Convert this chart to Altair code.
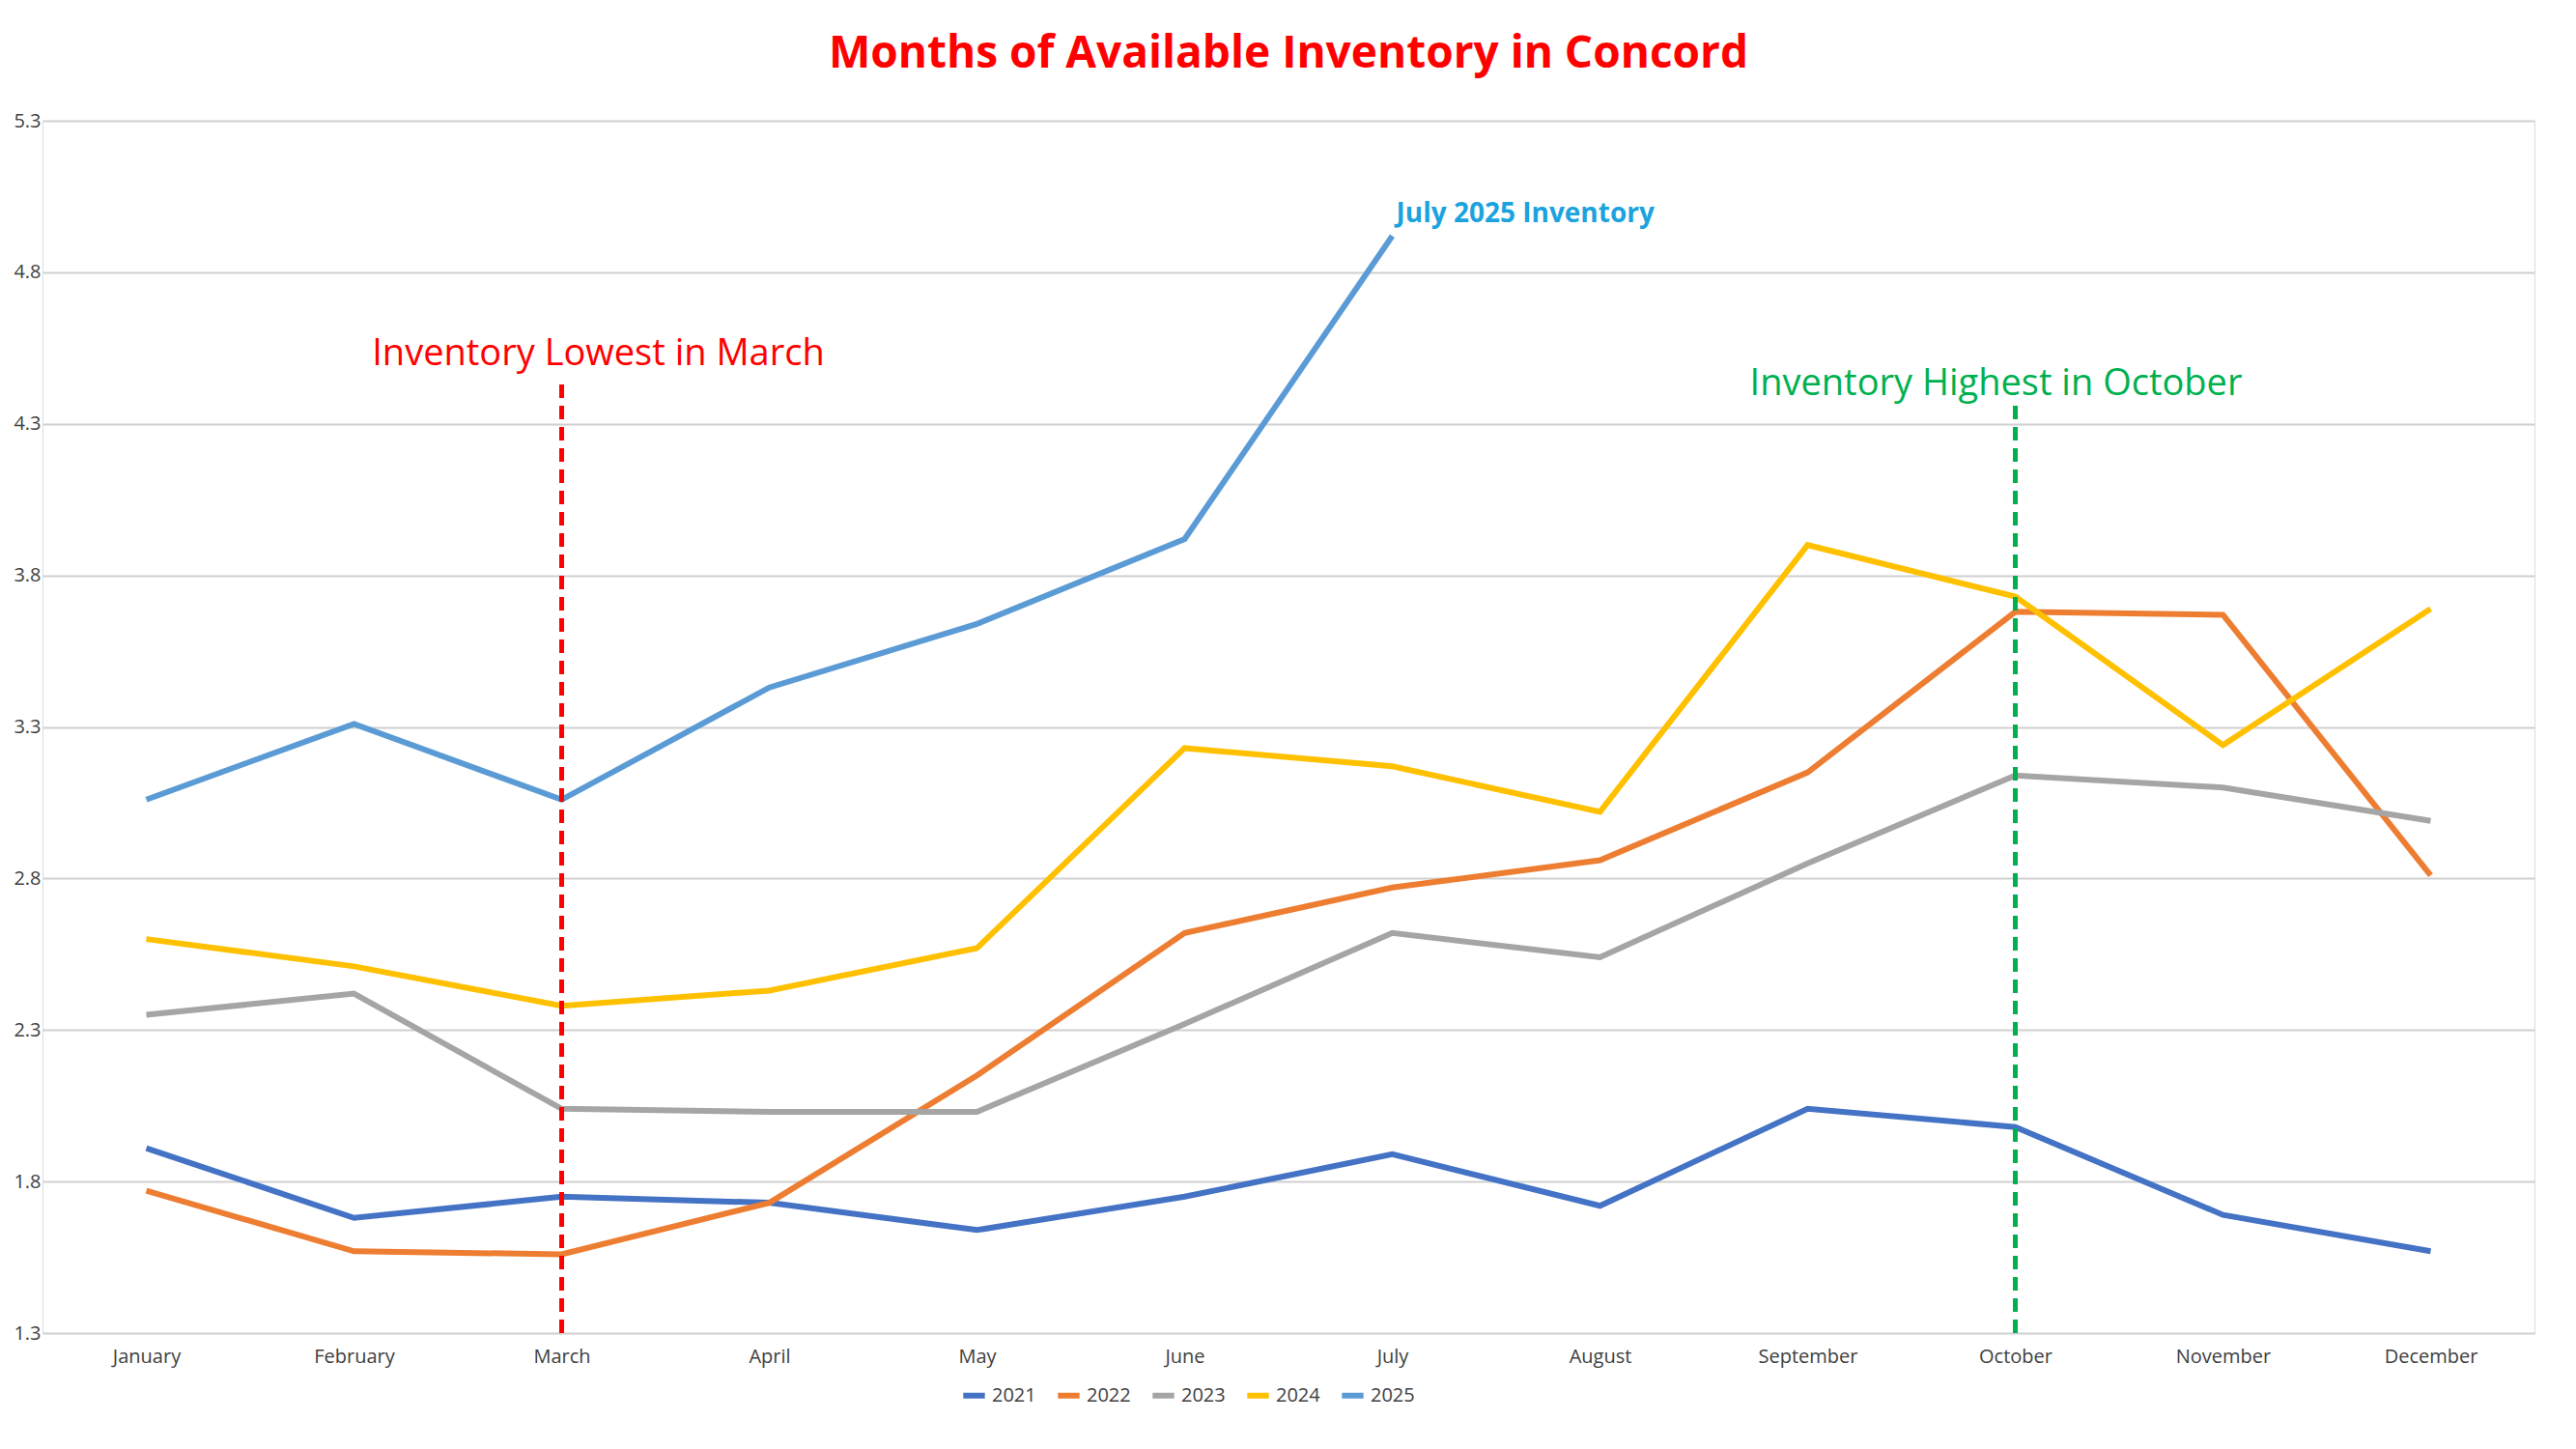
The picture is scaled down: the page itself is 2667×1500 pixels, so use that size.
import altair as alt
import pandas as pd

months = ["January","February","March","April","May","June","July","August","September","October","November","December"]
s2021 = [1.91,1.68,1.75,1.73,1.64,1.75,1.89,1.72,2.04,1.98,1.69,1.57]
s2022 = [1.77,1.57,1.56,1.73,2.15,2.62,2.77,2.86,3.15,3.68,3.67,2.81]
s2023 = [2.35,2.42,2.04,2.03,2.03,2.32,2.62,2.54,2.85,3.14,3.10,2.99]
s2024 = [2.60,2.51,2.38,2.43,2.57,3.23,3.17,3.02,3.90,3.73,3.24,3.69]
s2025 = [3.06,3.31,3.06,3.43,3.64,3.92,4.92]
years = ["2021","2022","2023","2024","2025"]
colors = ["#4472C4","#ED7D31","#A5A5A5","#FFC000","#5B9BD5"]

rows = []
for y, s in zip(years, [s2021,s2022,s2023,s2024,s2025]):
    for m, v in zip(months, s):
        rows.append({"Month": m, "Year": y, "Value": v})
df = pd.DataFrame(rows)

FONT = "Open Sans"
x = alt.X("Month:N", sort=months, title=None,
          scale=alt.Scale(type="point", padding=0.5),
          axis=alt.Axis(labelFont=FONT, labelFontSize=20, labelColor="#404040",
                        ticks=False, domainColor="#d0d0d0", labelPadding=14, labelAngle=0))

lines = alt.Chart(df).mark_line(strokeWidth=6).encode(
    x=x,
    y=alt.Y("Value:Q", title=None,
            scale=alt.Scale(domain=[1.3, 5.3], nice=False, zero=False),
            axis=alt.Axis(values=[1.3,1.8,2.3,2.8,3.3,3.8,4.3,4.8,5.3], format=".1f",
                          labelFont=FONT, labelFontSize=20, labelColor="#404040",
                          ticks=False, domain=False, gridColor="#d0d0d0", gridWidth=2)),
    color=alt.Color("Year:N", scale=alt.Scale(domain=years, range=colors),
                    legend=alt.Legend(orient="none", legendX=950, legendY=1305,
                                      direction="horizontal", title=None,
                                      symbolType="stroke", symbolStrokeWidth=6, symbolSize=500,
                                      labelFont=FONT, labelFontSize=20, labelColor="#404040")),
)

rule_df = pd.DataFrame({"Month": ["March", "October"], "lo": [1.3, 1.3], "hi": [4.43, 4.37],
                        "c": ["#FF0000", "#00B050"]})
rules = alt.Chart(rule_df).mark_rule(strokeWidth=5, strokeDash=[14, 8]).encode(
    x=alt.X("Month:N", sort=months), y="lo:Q", y2="hi:Q",
    color=alt.Color("c:N", scale=None))

ann_df = pd.DataFrame({"Month": ["March", "October"], "v": [4.53, 4.43],
                       "t": ["Inventory Lowest in March", "Inventory Highest in October"],
                       "c": ["#FF0000", "#00B050"]})
ann = alt.Chart(ann_df).encode(
    x=alt.X("Month:N", sort=months), y="v:Q", text="t:N",
    color=alt.Color("c:N", scale=None))
ann1 = ann.transform_filter("datum.Month == 'March'").mark_text(font=FONT, fontSize=38, align="center", dx=38)
ann2 = ann.transform_filter("datum.Month == 'October'").mark_text(font=FONT, fontSize=38, align="center", dx=-20)

jl = alt.Chart(pd.DataFrame({"Month": ["July"], "v": [4.99], "t": ["July 2025 Inventory"]})).mark_text(
    font=FONT, fontSize=28, align="left", dx=4, color="#1CA3DE", fontWeight="bold").encode(
    x=alt.X("Month:N", sort=months), y="v:Q", text="t:N")

chart = alt.layer(lines, rules, ann1, ann2, jl).properties(
    width=2580, height=1255,
    padding={"top": 25, "left": 5, "right": 5, "bottom": 5},
    title=alt.TitleParams("Months of Available Inventory in Concord", font=FONT, fontSize=46,
                          fontWeight="bold", color="#FF0000", offset=35),
).configure_view(stroke=None).configure(background="white")

chart.save("out.html", embed_options={"renderer": "svg", "actions": False})
